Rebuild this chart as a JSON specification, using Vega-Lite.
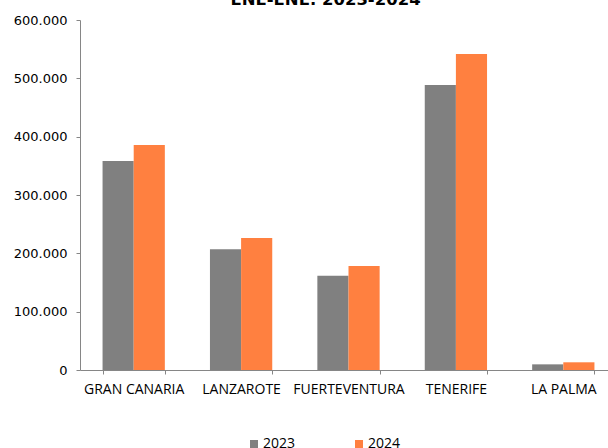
{
  "$schema": "https://vega.github.io/schema/vega-lite/v6.json",
  "autosize": {"type": "none"},
  "padding": {"left": 80, "top": 20, "right": -9, "bottom": 78},
  "width": 537,
  "height": 350,
  "background": "white",
  "title": {
    "text": "ENE-ENE. 2023-2024",
    "font": "DejaVu Sans",
    "fontSize": 16.5,
    "fontWeight": "bold",
    "color": "#000000",
    "anchor": "middle",
    "frame": "group",
    "dx": -23,
    "offset": 6
  },
  "data": {
    "values": [
      {"isla": "GRAN CANARIA", "year": "2023", "value": 358300},
      {"isla": "GRAN CANARIA", "year": "2024", "value": 385700},
      {"isla": "LANZAROTE", "year": "2023", "value": 206900},
      {"isla": "LANZAROTE", "year": "2024", "value": 226300},
      {"isla": "FUERTEVENTURA", "year": "2023", "value": 161700},
      {"isla": "FUERTEVENTURA", "year": "2024", "value": 178300},
      {"isla": "TENERIFE", "year": "2023", "value": 488600},
      {"isla": "TENERIFE", "year": "2024", "value": 541700},
      {"isla": "LA PALMA", "year": "2023", "value": 9700},
      {"isla": "LA PALMA", "year": "2024", "value": 13200}
    ]
  },
  "mark": {"type": "bar"},
  "encoding": {
    "x": {
      "field": "isla",
      "type": "nominal",
      "sort": ["GRAN CANARIA", "LANZAROTE", "FUERTEVENTURA", "TENERIFE", "LA PALMA"],
      "scale": {"paddingInner": 0.42, "paddingOuter": 0.21},
      "axis": {
        "title": null,
        "labelAngle": 0,
        "tickBand": "extent",
        "tickSize": 4,
        "domainColor": "#868686",
        "tickColor": "#868686",
        "labelFont": "Open Sans",
        "labelFontSize": 14,
        "labelColor": "#000000",
        "labelPadding": 8
      }
    },
    "xOffset": {"field": "year", "type": "nominal", "scale": {"paddingInner": 0, "paddingOuter": 0}},
    "y": {
      "field": "value",
      "type": "quantitative",
      "scale": {"domain": [0, 600000]},
      "axis": {
        "title": null,
        "grid": false,
        "values": [0, 100000, 200000, 300000, 400000, 500000, 600000],
        "format": ",d",
        "tickSize": 4,
        "domainColor": "#868686",
        "tickColor": "#868686",
        "labelFont": "DejaVu Sans",
        "labelFontSize": 13,
        "labelColor": "#000000",
        "labelPadding": 9
      }
    },
    "color": {
      "field": "year",
      "type": "nominal",
      "scale": {"domain": ["2023", "2024"], "range": ["#808080", "#FF8040"]},
      "legend": {
        "title": null,
        "orient": "none",
        "legendX": 167,
        "legendY": 417,
        "direction": "horizontal",
        "symbolType": "square",
        "symbolSize": 64,
        "symbolStrokeWidth": 0,
        "labelFont": "Open Sans",
        "labelFontSize": 14,
        "labelColor": "#000000",
        "labelOffset": 2,
        "columnPadding": 56
      }
    }
  },
  "config": {
    "view": {"stroke": null},
    "locale": {"number": {"decimal": ",", "thousands": ".", "grouping": [3], "currency": ["", " €"]}}
  }
}
